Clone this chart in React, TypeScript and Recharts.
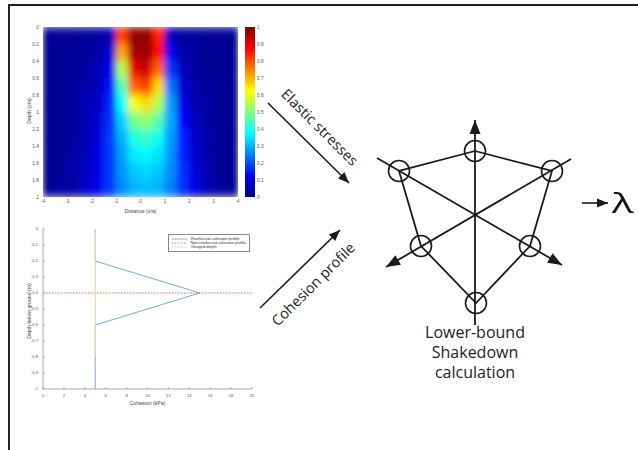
import React from "react";
import {
  ScatterChart,
  Scatter,
  XAxis,
  YAxis,
  LineChart,
  Line,
  BarChart,
  Bar,
  Legend,
} from "recharts";

// ---- elastic stress field (normalised), rows = depth z/a, cols = distance x/a
const HEAT_X = [
  -3.75, -3.25, -2.75, -2.25, -1.75, -1.25, -0.75, -0.25,
  0.25, 0.75, 1.25, 1.75, 2.25, 2.75, 3.25, 3.75,
];
const HEAT_DEPTH = [0.1, 0.3, 0.5, 0.7, 0.9, 1.1, 1.3, 1.5, 1.7, 1.9];
const HEAT_ROWS = [
  [0.02, 0.02, 0.02, 0.03, 0.03, 0.05, 0.82, 0.98, 0.98, 0.85, 0.06, 0.03, 0.03, 0.02, 0.02, 0.02],
  [0.02, 0.02, 0.02, 0.03, 0.04, 0.08, 0.72, 0.96, 0.97, 0.86, 0.12, 0.04, 0.03, 0.02, 0.02, 0.02],
  [0.02, 0.02, 0.03, 0.03, 0.05, 0.11, 0.55, 0.9, 0.92, 0.78, 0.18, 0.06, 0.03, 0.02, 0.02, 0.02],
  [0.02, 0.02, 0.03, 0.04, 0.06, 0.14, 0.45, 0.78, 0.82, 0.66, 0.24, 0.08, 0.04, 0.03, 0.02, 0.02],
  [0.02, 0.02, 0.03, 0.05, 0.07, 0.16, 0.38, 0.62, 0.66, 0.55, 0.28, 0.1, 0.05, 0.03, 0.02, 0.02],
  [0.02, 0.02, 0.03, 0.05, 0.08, 0.17, 0.33, 0.49, 0.52, 0.46, 0.29, 0.13, 0.06, 0.03, 0.02, 0.02],
  [0.02, 0.02, 0.03, 0.05, 0.09, 0.18, 0.3, 0.41, 0.43, 0.39, 0.28, 0.15, 0.07, 0.04, 0.02, 0.02],
  [0.02, 0.02, 0.04, 0.06, 0.1, 0.18, 0.28, 0.36, 0.37, 0.35, 0.27, 0.16, 0.08, 0.04, 0.02, 0.02],
  [0.02, 0.02, 0.04, 0.06, 0.1, 0.18, 0.27, 0.32, 0.34, 0.32, 0.26, 0.17, 0.09, 0.05, 0.02, 0.02],
  [0.02, 0.03, 0.04, 0.07, 0.11, 0.18, 0.26, 0.3, 0.31, 0.3, 0.25, 0.17, 0.1, 0.05, 0.03, 0.02],
];
const HEAT_X_TICKS = [-4, -3, -2, -1, 0, 1, 2, 3, 4];
const HEAT_DEPTH_TICKS = [0, 0.2, 0.4, 0.6, 0.8, 1, 1.2, 1.4, 1.6, 1.8, 2];
const COLORBAR_TICKS = [0, 0.1, 0.2, 0.3, 0.4, 0.5, 0.6, 0.7, 0.8, 0.9, 1];
const COLORBAR = [{ name: "scale", top: 1 }];

// ---- cohesion profile
const COHESION_TICKS = [0, 2, 4, 6, 8, 10, 12, 14, 16, 18, 20];
const DEPTH_TICKS = [-1, -0.9, -0.8, -0.7, -0.6, -0.5, -0.4, -0.3, -0.2, -0.1, 0];
const REINFORCED = [
  { x: 5, y: 0 },
  { x: 5, y: -0.2 },
  { x: 15, y: -0.4 },
  { x: 5, y: -0.6 },
  { x: 5, y: -1 },
];
const NON_REINFORCED = [
  { x: 0, y: -0.4 },
  { x: 20, y: -0.4 },
];
const GOUGED = [
  { x: 5, y: 0 },
  { x: 5, y: -0.8 },
];
const SERIES_NAMES = [
  "Reinforced cohesion profile",
  "Non-reinforced cohesion profile",
  "Gouged depth",
];

// ---- shakedown schematic, origin at the centre of stress space
const HEX_LOOP = [
  { x: 0, y: 64 },
  { x: 77, y: 44 },
  { x: 55, y: -31 },
  { x: 1, y: -88 },
  { x: -54, y: -31 },
  { x: -76, y: 44 },
  { x: 0, y: 64 },
];
const HEX_NODES = HEX_LOOP.slice(0, 6);
const AXIS_UP = [
  { x: 0, y: 95 },
  { x: 0, y: -110 },
];
const AXIS_A = [
  { x: -98, y: 57 },
  { x: 87, y: -50 },
];
const AXIS_B = [
  { x: 96, y: 56 },
  { x: -89, y: -52 },
];
const AXIS_TIPS = [
  { x: 0, y: 95, angle: 90 },
  { x: 87, y: -50, angle: -30 },
  { x: -89, y: -52, angle: -150 },
];
const ELASTIC_ARROW = [
  { x: -207, y: 112 },
  { x: -126, y: 32 },
];
const COHESION_ARROW = [
  { x: -215, y: -93 },
  { x: -135, y: -15 },
];
const LAMBDA_ARROW = [
  { x: 107, y: 12 },
  { x: 133, y: 12 },
];
const FLOW_TIPS = [
  { x: -126, y: 32, angle: -45 },
  { x: -135, y: -15, angle: 44 },
  { x: 133, y: 12, angle: 0 },
];

const LABEL_FONT = "'Open Sans', 'Liberation Sans', sans-serif";
const INK = "#1a1a1a";
const HEAT_TICK = { fontSize: 4.8, fill: "#555" };
const LINE_TICK = { fontSize: 4.2, fill: "#555" };

const jet = (v: number) => {
  const c = (t: number) =>
    Math.round(255 * Math.max(0, Math.min(1, 1.5 - Math.abs(4 * v - t))));
  return `rgb(${c(3)},${c(2)},${c(1)})`;
};

const heatData = HEAT_DEPTH.flatMap((d, i) =>
  HEAT_X.map((x, j) => ({ x, y: d, v: HEAT_ROWS[i][j] }))
);

const HEAT_W = 195;
const HEAT_H = 170;
const CELL_W = HEAT_W / HEAT_X.length + 0.6;
const CELL_H = HEAT_H / HEAT_DEPTH.length + 0.6;

function HeatCell(props: any) {
  const { cx, cy, payload } = props;
  return (
    <rect
      x={cx - CELL_W / 2}
      y={cy - CELL_H / 2}
      width={CELL_W}
      height={CELL_H}
      fill={jet(payload.v)}
    />
  );
}

const NoDot = () => <g />;

function Node(props: any) {
  return (
    <circle cx={props.cx} cy={props.cy} r={10.5} fill="none" stroke={INK} strokeWidth={1.6} />
  );
}

function BigHead(props: any) {
  const { cx, cy, payload } = props;
  return (
    <polygon
      points="0,0 -14,-5.5 -14,5.5"
      transform={`translate(${cx},${cy}) rotate(${-payload.angle})`}
      fill={INK}
    />
  );
}

function SmallHead(props: any) {
  const { cx, cy, payload } = props;
  return (
    <polygon
      points="0,0 -11,-4.5 -11,4.5"
      transform={`translate(${cx},${cy}) rotate(${-payload.angle})`}
      fill={INK}
    />
  );
}

function CohesionLegend(props: any) {
  const items = [...(props.payload || [])].sort(
    (a: any, b: any) => SERIES_NAMES.indexOf(a.value) - SERIES_NAMES.indexOf(b.value)
  );
  return (
    <div
      style={{
        border: "0.8px solid #888",
        background: "#fff",
        padding: "1.5px 3px",
        fontSize: 4,
        lineHeight: "4.3px",
        color: "#333",
        width: 74,
      }}
    >
      {items.map((it: any) => (
        <div key={it.value} style={{ display: "flex", alignItems: "center", height: 4.3 }}>
          <svg width={15} height={4}>
            <line
              x1={0}
              y1={2}
              x2={15}
              y2={2}
              stroke={it.color}
              strokeWidth={0.9}
              strokeDasharray={it.payload?.strokeDasharray}
            />
          </svg>
          <span style={{ marginLeft: 4, whiteSpace: "nowrap" }}>{it.value}</span>
        </div>
      ))}
    </div>
  );
}

const axisTitle = (left: number, top: number): React.CSSProperties => ({
  position: "absolute",
  left,
  top,
  transform: "translate(-50%, -50%) rotate(-90deg)",
  whiteSpace: "nowrap",
  fontSize: 5.2,
  color: "#444",
});

export default function App() {
  return (
    <div
      style={{
        position: "absolute",
        left: 0,
        top: 0,
        width: 638,
        height: 450,
        overflow: "hidden",
        background: "#fff",
        fontFamily: "'Liberation Sans', Arial, sans-serif",
      }}
    >
      <style>{`.heatmap .recharts-scatter { filter: url(#heatBlur); }`}</style>
      <svg width={0} height={0} style={{ position: "absolute" }}>
        <defs>
          <filter id="heatBlur" x="0" y="0" width="1" height="1" filterUnits="objectBoundingBox">
            <feGaussianBlur stdDeviation="3 5" edgeMode="duplicate" />
          </filter>
          <linearGradient id="jetBar" x1="0" y1="0" x2="0" y2="1">
            <stop offset="0" stopColor="rgb(128,0,0)" />
            <stop offset="0.125" stopColor="rgb(255,0,0)" />
            <stop offset="0.375" stopColor="rgb(255,255,0)" />
            <stop offset="0.625" stopColor="rgb(0,255,255)" />
            <stop offset="0.875" stopColor="rgb(0,0,255)" />
            <stop offset="1" stopColor="rgb(0,0,128)" />
          </linearGradient>
        </defs>
      </svg>

      {/* frame */}
      <div
        style={{
          position: "absolute",
          left: 8,
          top: 4,
          width: 640,
          height: 460,
          borderTop: "2px solid #222",
          borderLeft: "2px solid #222",
        }}
      />

      {/* elastic stress map */}
      <div className="heatmap" style={{ position: "absolute", left: 0, top: 0 }}>
        <ScatterChart width={260} height={215} margin={{ top: 27, right: 22, bottom: 0, left: 13 }}>
          <XAxis
            type="number"
            dataKey="x"
            domain={[-4, 4]}
            allowDataOverflow
            ticks={HEAT_X_TICKS}
            interval={0}
            height={18}
            tick={HEAT_TICK}
            tickSize={3}
            tickMargin={0}
            axisLine={false}
            tickLine={false}
            label={{ value: "Distance (x/a)", position: "insideBottom", offset: 2, fontSize: 5.2, fill: "#444" }}
          />
          <YAxis
            type="number"
            dataKey="y"
            domain={[0, 2]}
            reversed
            allowDataOverflow
            ticks={HEAT_DEPTH_TICKS}
            interval={0}
            width={30}
            tick={HEAT_TICK}
            tickSize={3}
            tickMargin={1}
            axisLine={false}
            tickLine={false}
          />
          <Scatter data={heatData} shape={HeatCell} isAnimationActive={false} />
        </ScatterChart>
      </div>
      <div style={axisTitle(29, 111)}>Depth (z/a)</div>

      {/* colour bar */}
      <div style={{ position: "absolute", left: 240, top: 0 }}>
        <BarChart
          width={40}
          height={215}
          data={COLORBAR}
          margin={{ top: 27, right: 0, bottom: 18, left: 5 }}
          barCategoryGap={0}
        >
          <XAxis dataKey="name" hide />
          <YAxis
            orientation="right"
            type="number"
            domain={[0, 1]}
            allowDataOverflow
            ticks={COLORBAR_TICKS}
            interval={0}
            width={25}
            tick={{ ...HEAT_TICK, textAnchor: "start" }}
            tickSize={1}
            tickMargin={1}
            axisLine={false}
            tickLine={false}
          />
          <Bar dataKey="top" fill="url(#jetBar)" isAnimationActive={false} />
        </BarChart>
      </div>

      {/* cohesion profile */}
      <div style={{ position: "absolute", left: 0, top: 215 }}>
        <LineChart width={270} height={200} margin={{ top: 14, right: 18, bottom: 0, left: 13 }}>
          <XAxis
            type="number"
            dataKey="x"
            domain={[0, 20]}
            allowDataOverflow
            ticks={COHESION_TICKS}
            interval={0}
            height={26}
            tick={LINE_TICK}
            tickSize={-2}
            tickMargin={7}
            axisLine={{ stroke: "#aaa" }}
            tickLine={{ stroke: "#aaa" }}
            label={{ value: "Cohesion (kPa)", position: "insideBottom", offset: 10, fontSize: 5.2, fill: "#444" }}
          />
          <XAxis
            xAxisId="top"
            orientation="top"
            type="number"
            domain={[0, 20]}
            allowDataOverflow
            ticks={COHESION_TICKS}
            interval={0}
            height={0}
            mirror
            tick={false}
            tickSize={2}
            axisLine={{ stroke: "#aaa" }}
            tickLine={{ stroke: "#aaa" }}
          />
          <YAxis
            type="number"
            dataKey="y"
            domain={[-1, 0]}
            allowDataOverflow
            ticks={DEPTH_TICKS}
            interval={0}
            width={30}
            tick={LINE_TICK}
            tickSize={-2}
            tickMargin={7}
            axisLine={{ stroke: "#aaa" }}
            tickLine={{ stroke: "#aaa" }}
          />
          <YAxis
            yAxisId="right"
            orientation="right"
            type="number"
            domain={[-1, 0]}
            allowDataOverflow
            ticks={DEPTH_TICKS}
            interval={0}
            width={0}
            mirror
            tick={false}
            tickSize={2}
            axisLine={{ stroke: "#aaa" }}
            tickLine={{ stroke: "#aaa" }}
          />
          <Legend
            layout="vertical"
            align="center"
            verticalAlign="middle"
            content={CohesionLegend}
            wrapperStyle={{ left: 168, top: 19, width: 82, height: 16 }}
          />
          <Line
            data={REINFORCED}
            dataKey="y"
            name={SERIES_NAMES[0]}
            stroke="#78aad6"
            strokeWidth={1}
            dot={false}
            isAnimationActive={false}
          />
          <Line
            data={NON_REINFORCED}
            dataKey="y"
            name={SERIES_NAMES[1]}
            stroke="#e2665a"
            strokeWidth={1}
            strokeDasharray="1.5 1.5"
            dot={false}
            isAnimationActive={false}
          />
          <Line
            data={GOUGED}
            dataKey="y"
            name={SERIES_NAMES[2]}
            stroke="#e6dca6"
            strokeWidth={1.2}
            dot={false}
            isAnimationActive={false}
          />
        </LineChart>
      </div>
      <div style={axisTitle(29, 311)}>Depth below ground (m)</div>

      {/* arrows and shakedown schematic */}
      <div style={{ position: "absolute", left: 0, top: 0 }}>
        <ScatterChart width={638} height={450} margin={{ top: 0, right: 0, bottom: 0, left: 0 }}>
          <XAxis type="number" dataKey="x" domain={[-475, 163]} allowDataOverflow hide />
          <YAxis type="number" dataKey="y" domain={[-235, 215]} allowDataOverflow hide />
          {[HEX_LOOP, AXIS_UP, AXIS_A, AXIS_B].map((pts, i) => (
            <Scatter
              key={`d${i}`}
              data={pts}
              line={{ stroke: INK, strokeWidth: 1.8 }}
              shape={NoDot}
              isAnimationActive={false}
            />
          ))}
          {[ELASTIC_ARROW, COHESION_ARROW, LAMBDA_ARROW].map((pts, i) => (
            <Scatter
              key={`f${i}`}
              data={pts}
              line={{ stroke: INK, strokeWidth: 1.6 }}
              shape={NoDot}
              isAnimationActive={false}
            />
          ))}
          <Scatter data={HEX_NODES} shape={Node} isAnimationActive={false} />
          <Scatter data={AXIS_TIPS} shape={BigHead} isAnimationActive={false} />
          <Scatter data={FLOW_TIPS} shape={SmallHead} isAnimationActive={false} />
        </ScatterChart>
      </div>

      <div
        style={{
          position: "absolute",
          left: 320,
          top: 127,
          transform: "translate(-50%, -50%) rotate(45deg)",
          whiteSpace: "nowrap",
          fontSize: 14.5,
          fontFamily: LABEL_FONT,
          color: "#222",
        }}
      >
        Elastic stresses
      </div>
      <div
        style={{
          position: "absolute",
          left: 313,
          top: 284,
          transform: "translate(-50%, -50%) rotate(-45deg)",
          whiteSpace: "nowrap",
          fontSize: 14.5,
          fontFamily: LABEL_FONT,
          color: "#222",
        }}
      >
        Cohesion profile
      </div>
      <div
        style={{
          position: "absolute",
          left: 375,
          top: 322,
          width: 200,
          textAlign: "center",
          fontSize: 16,
          lineHeight: "20px",
          fontFamily: LABEL_FONT,
          color: "#222",
        }}
      >
        Lower-bound
        <br />
        Shakedown
        <br />
        calculation
      </div>
      <div
        style={{
          position: "absolute",
          left: 612,
          top: 188,
          fontSize: 28,
          lineHeight: "28px",
          fontFamily: LABEL_FONT,
          color: "#111",
          transform: "scaleX(1.45)",
          transformOrigin: "left center",
        }}
      >
        λ
      </div>
    </div>
  );
}
